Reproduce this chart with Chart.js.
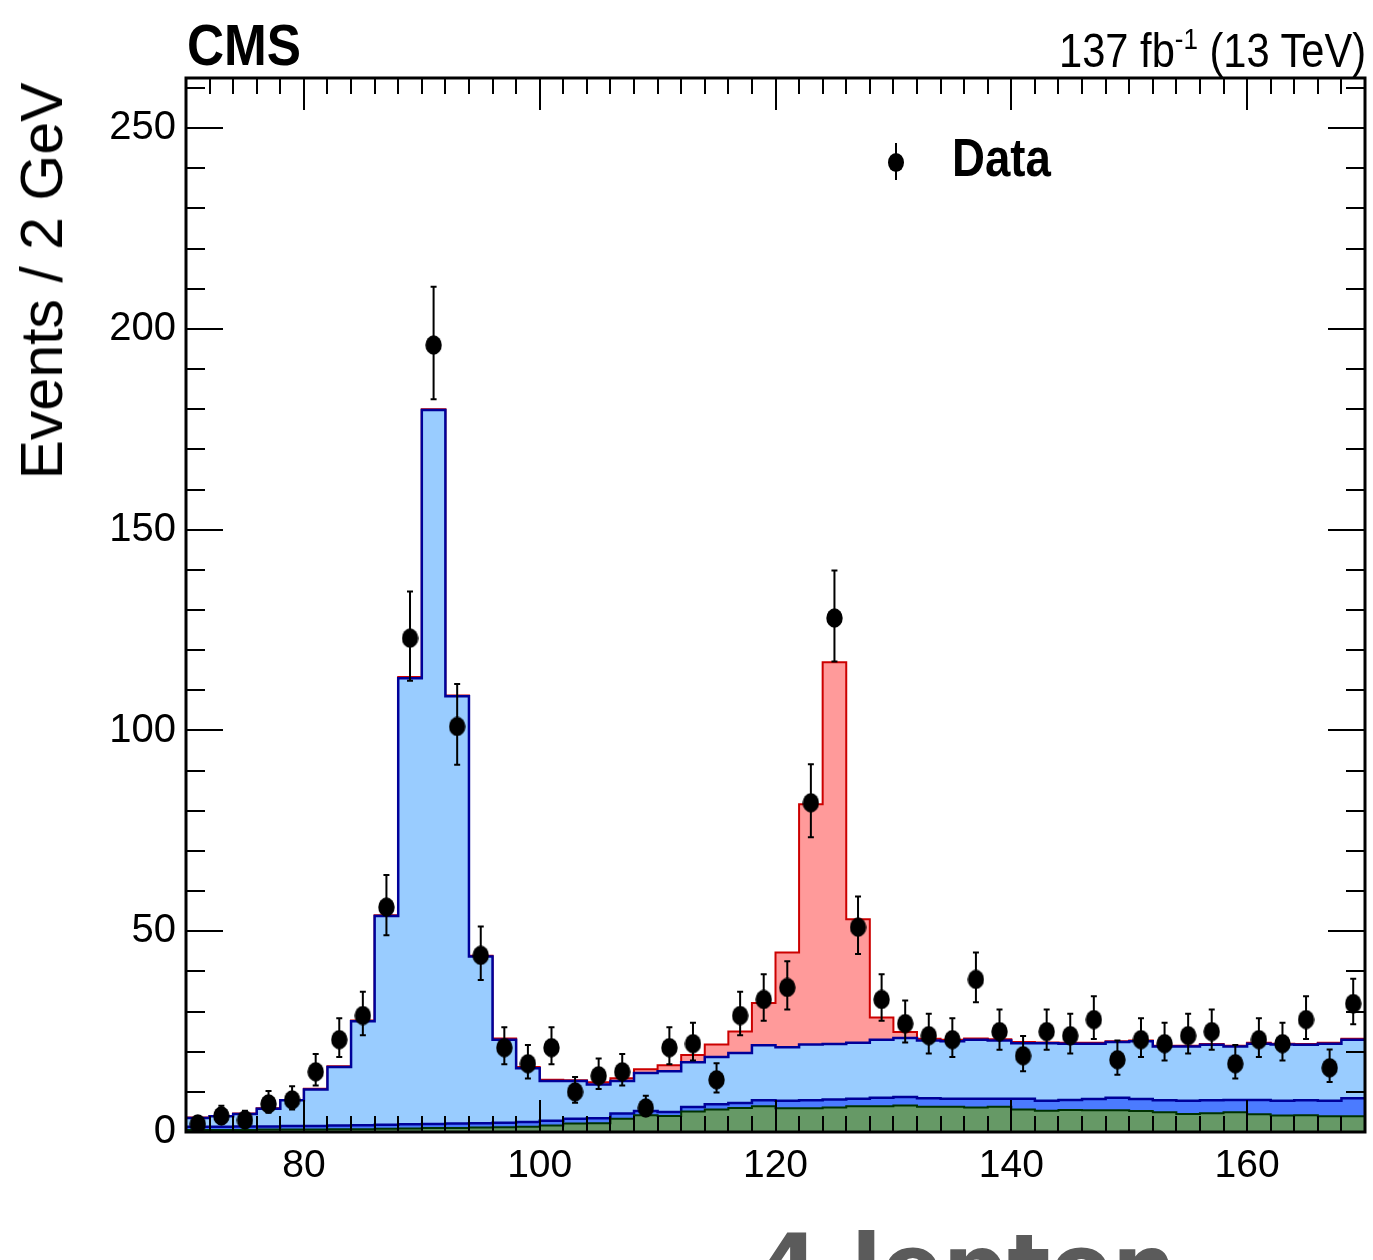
<!DOCTYPE html>
<html>
<head>
<meta charset="utf-8">
<title>CMS 4 lepton mass</title>
<script src="https://cdn.jsdelivr.net/npm/chart.js@4.4.1/dist/chart.umd.min.js"></script>
<style>
    html, body { margin: 0; padding: 0; background: #fff; }
    #wrap { position: relative; width: 1373px; height: 1260px; overflow: hidden; }
    #wrap canvas { position: absolute; left: 0; top: 0; }
    .lbl { position: absolute; white-space: nowrap; line-height: 1; color: #000; }
    #cms { left: 187px; top: 12px; font: bold 57px 'Liberation Sans', sans-serif;
           transform: scaleX(0.9); transform-origin: left top; }
    #lumi { right: 7px; top: 23px; font: 48px 'Liberation Sans', sans-serif;
            transform: scaleX(0.867); transform-origin: right top; }
    #lumi sup { font-size: 30px; vertical-align: 18px; line-height: 0; }
    #ytitle { left: 42px; top: 281px; transform: translate(-50%, -50%) rotate(-90deg);
              font: 59px 'Liberation Sans', sans-serif; }
    #legText { left: 952px; top: 126px; font: bold 54px 'Liberation Sans', sans-serif;
               transform: scaleX(0.845); transform-origin: left top; }
    #legBar { position: absolute; left: 895px; top: 143px; width: 2px; height: 37px; background: #000; }
    #legDot { position: absolute; left: 888px; top: 153px; width: 16px; height: 19px; border-radius: 50%; background: #000; }
    #channel { left: 757px; top: 1215px; font: bold 90px 'DejaVu Sans', sans-serif; color: #5b5b5b; }
</style>
</head>
<body>
<div id="wrap">
    <canvas id="massChart" width="1373" height="1260"></canvas>
    <div class="lbl" id="cms">CMS</div>
    <div class="lbl" id="lumi">137 fb<sup>-1</sup> (13 TeV)</div>
    <div class="lbl" id="ytitle">Events / 2 GeV</div>
    <div id="legBar"></div>
    <div id="legDot"></div>
    <div class="lbl" id="legText">Data</div>
    <div class="lbl" id="channel">4 lepton</div>
</div>
<script>
// binning of m(4l), 2 GeV bins from 70 to 170
const massLow = 70;
const binWidth = 2;

// observed events per bin
const dataCounts = [2, 4, 3, 7, 8, 15, 23, 29, 56, 123,
    196, 101, 44, 21, 17, 21, 10, 14, 15, 6,
    21, 22, 13, 29, 33, 36, 82, 128, 51, 33,
    27, 24, 23, 38, 25, 19, 25, 24, 28, 18,
    23, 22, 24, 25, 17, 23, 22, 28, 16, 32];

// expected contributions per bin (stacked bottom -> top)
const zPlusX = [0.5, 0.5, 0.5, 0.6, 0.6, 0.6, 0.7, 0.7, 0.8, 0.9,
    1.0, 1.0, 1.1, 1.2, 1.3, 1.6, 2.1, 2.2, 3.3, 4.2,
    4.0, 5.1, 5.6, 6.0, 6.4, 5.9, 5.9, 6.1, 6.4, 6.4,
    6.6, 6.3, 6.3, 6.1, 6.3, 5.6, 5.3, 5.5, 5.4, 5.4,
    5.2, 4.9, 4.5, 4.7, 4.9, 4.4, 4.1, 4.2, 3.9, 3.9];
const ggZZ = [0.8, 0.8, 0.9, 0.8, 0.9, 0.9, 0.9, 1.0, 1.0, 1.0,
    1.0, 1.1, 1.1, 1.1, 1.2, 1.2, 1.2, 1.2, 1.3, 1.0,
    1.0, 1.1, 1.3, 1.2, 1.5, 1.9, 2.0, 2.0, 1.9, 2.1,
    2.1, 2.1, 2.0, 2.2, 2.0, 2.7, 2.5, 2.5, 2.8, 3.1,
    3.0, 3.0, 3.3, 3.2, 3.1, 3.6, 3.7, 3.7, 3.9, 4.5];
const qqZZ = [2.2, 2.6, 3.1, 4.4, 6.4, 9.1, 14.6, 25.9, 52.0, 111.1,
    177.8, 106.4, 41.5, 20.7, 13.4, 9.9, 9.4, 8.4, 8.1, 9.5,
    10.1, 11.2, 11.8, 12.5, 13.7, 13.3, 13.9, 13.8, 13.9, 14.5,
    14.7, 14.4, 14.3, 14.7, 14.5, 13.8, 14.3, 14.0, 13.8, 13.9,
    14.4, 13.4, 13.5, 13.8, 13.3, 14.0, 14.0, 13.8, 14.2, 14.6];
const higgs = [0.1, 0.1, 0.1, 0.1, 0.1, 0.2, 0.2, 0.2, 0.2, 0.3,
    0.2, 0.2, 0.2, 0.3, 0.3, 0.3, 0.2, 0.6, 0.7, 0.9,
    1.5, 1.8, 3.1, 5.3, 10.5, 23.6, 59.8, 95.1, 30.8, 5.5,
    1.5, 0.4, 0.4, 0.3, 0.3, 0.3, 0.2, 0.2, 0.2, 0.2,
    0.2, 0.2, 0.2, 0.2, 0.2, 0.2, 0.2, 0.2, 0.2, 0.2];

const xTickLabels = [80, 100, 120, 140, 160];
const yTickLabels = [0, 50, 100, 150, 200, 250];

const xMin = 70, xMax = 170, yMax = 262.5;
const tickFont = "'Liberation Sans', sans-serif";

// cumulative stack
function addArrays(a, b) { return a.map((v, i) => v + b[i]); }
const stackZX = zPlusX;
const stackGG = addArrays(stackZX, ggZZ);
const stackQQ = addArrays(stackGG, qqZZ);
const stackH = addArrays(stackQQ, higgs);

// one point per bin edge, stepped line holds the bin value
function histPoints(vals) {
    const pts = vals.map((v, i) => ({ x: massLow + i * binWidth, y: v }));
    pts.push({ x: massLow + vals.length * binWidth, y: vals[vals.length - 1] });
    return pts;
}

function histDataset(vals, fillColor, lineColor, width) {
    return {
        data: histPoints(vals),
        stepped: true,
        fill: 'origin',
        backgroundColor: fillColor,
        borderColor: lineColor,
        borderWidth: width,
        pointRadius: 0,
        tension: 0
    };
}

// ellipse marker like the ROOT full circle
const dotCanvas = document.createElement('canvas');
dotCanvas.width = 17;
dotCanvas.height = 20;
(() => {
    const c = dotCanvas.getContext('2d');
    c.fillStyle = '#000';
    c.beginPath();
    c.ellipse(8.5, 10, 8.2, 9.7, 0, 0, Math.PI * 2);
    c.fill();
})();

// Poisson-like asymmetric errors
function errUp(n) { return 0.5 + Math.sqrt(n + 0.25); }
function errDown(n) { return Math.sqrt(n + 0.25) - 0.5; }

const errorBars = {
    id: 'errorBars',
    afterDatasetsDraw(chart) {
        const { ctx, scales: { x, y } } = chart;
        ctx.save();
        ctx.strokeStyle = '#000';
        ctx.lineWidth = 2;
        dataCounts.forEach((n, i) => {
            const px = x.getPixelForValue(massLow + (i + 0.5) * binWidth);
            const top = y.getPixelForValue(n + errUp(n));
            const bot = y.getPixelForValue(n - errDown(n));
            ctx.beginPath();
            ctx.moveTo(px, top); ctx.lineTo(px, bot);
            ctx.moveTo(px - 3, top); ctx.lineTo(px + 3, top);
            ctx.moveTo(px - 3, bot); ctx.lineTo(px + 3, bot);
            ctx.stroke();
        });
        ctx.restore();
    }
};

// ROOT style frame with inward ticks on all four sides
const frameTicks = {
    id: 'frameTicks',
    afterDatasetsDraw(chart) {
        const { ctx, chartArea: a, scales: { x, y } } = chart;
        ctx.save();
        ctx.strokeStyle = '#000';
        ctx.lineWidth = 2;
        ctx.beginPath();
        for (let v = xMin; v <= xMax; v += 2) {
            const px = Math.round(x.getPixelForValue(v));
            const len = v % 20 === 0 ? 32 : 16;
            ctx.moveTo(px, a.bottom); ctx.lineTo(px, a.bottom - len);
            ctx.moveTo(px, a.top); ctx.lineTo(px, a.top + len);
        }
        for (let v = 0; v <= yMax; v += 10) {
            const py = Math.round(y.getPixelForValue(v));
            const len = v % 50 === 0 ? 37 : 19;
            ctx.moveTo(a.left, py); ctx.lineTo(a.left + len, py);
            ctx.moveTo(a.right, py); ctx.lineTo(a.right - len, py);
        }
        ctx.stroke();
        ctx.lineWidth = 3;
        ctx.strokeRect(a.left, a.top, a.right - a.left, a.bottom - a.top);
        ctx.restore();
    }
};

new Chart(document.getElementById('massChart'), {
    type: 'line',
    data: {
        datasets: [
            {
                data: dataCounts.map((n, i) => ({ x: massLow + (i + 0.5) * binWidth, y: n })),
                showLine: false,
                pointStyle: dotCanvas,
                pointRadius: 8,
                borderWidth: 0,
                backgroundColor: '#000'
            },
            histDataset(stackZX, '#669966', '#003300', 2),
            histDataset(stackGG, '#4b7bff', '#000099', 2.5),
            histDataset(stackQQ, '#99ccff', '#000099', 2.5),
            histDataset(stackH, '#ff9a9a', '#cc0000', 2)
        ]
    },
    options: {
        responsive: false,
        animation: false,
        devicePixelRatio: 1,
        layout: { padding: { top: 78, right: 7, left: 0, bottom: 0 } },
        plugins: { legend: { display: false }, tooltip: { enabled: false } },
        scales: {
            x: {
                type: 'linear',
                min: xMin,
                max: xMax,
                afterBuildTicks: s => { s.ticks = xTickLabels.map(v => ({ value: v })); },
                afterFit: s => { s.height = 128; },
                grid: { display: false, drawTicks: false },
                border: { display: false },
                ticks: { padding: 11, color: '#000', maxRotation: 0, font: { family: tickFont, size: 39 } }
            },
            y: {
                min: 0,
                max: yMax,
                afterBuildTicks: s => { s.ticks = yTickLabels.map(v => ({ value: v })); },
                afterFit: s => { s.width = 186; },
                grid: { display: false, drawTicks: false },
                border: { display: false },
                ticks: { padding: 10, color: '#000', font: { family: tickFont, size: 40 } }
            }
        }
    },
    plugins: [errorBars, frameTicks]
});
</script>
</body>
</html>
